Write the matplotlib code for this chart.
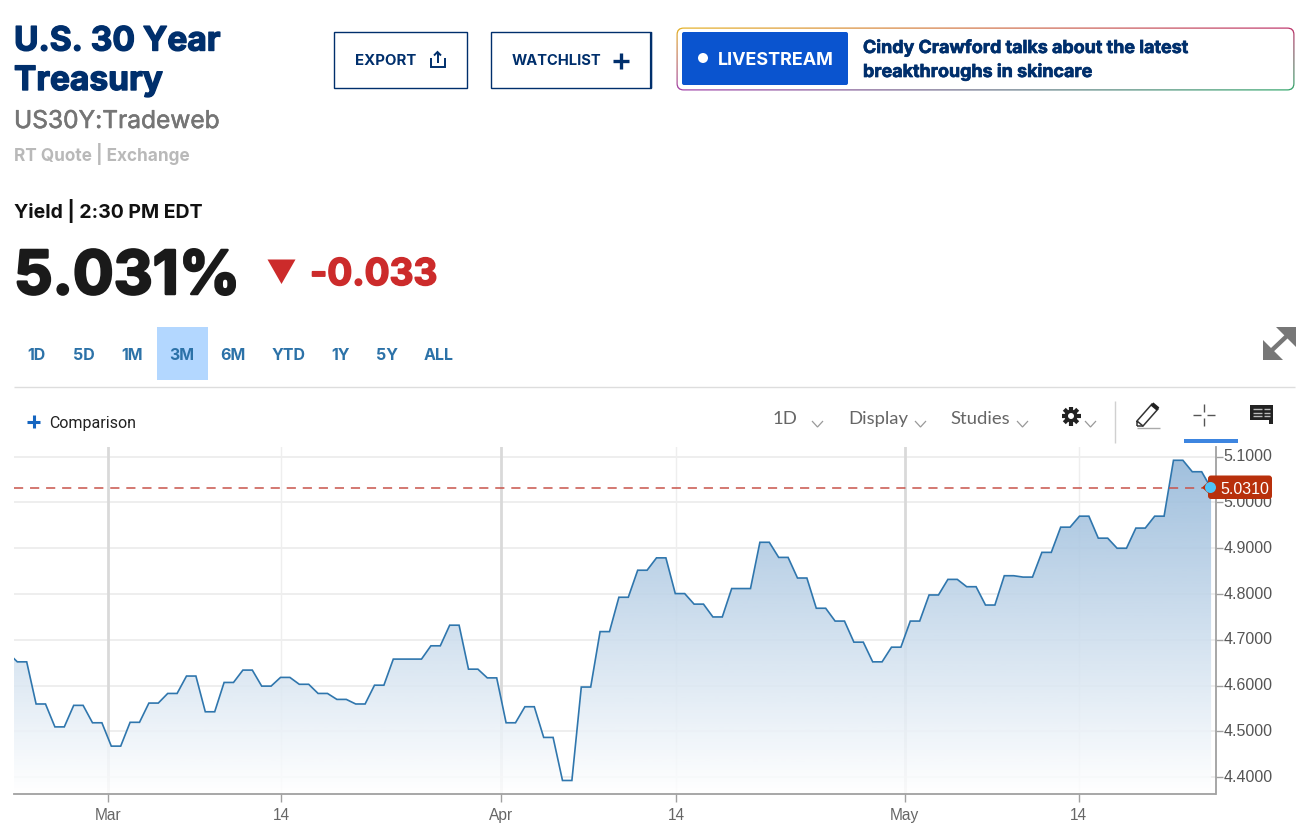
import numpy as np
import matplotlib
matplotlib.use('Agg')
import matplotlib.pyplot as plt
import matplotlib.patheffects as pe
from matplotlib.patches import Rectangle, FancyBboxPatch, Polygon, Circle

# chart data, one value per plotted point (about 9.4 px apart)
yields = [4.672,
    4.652, 4.652, 4.560, 4.560, 4.510, 4.510, 4.557, 4.557, 4.519, 4.519,
    4.468, 4.468, 4.520, 4.520, 4.562, 4.562, 4.583, 4.583, 4.621, 4.621,
    4.543, 4.543, 4.607, 4.607, 4.634, 4.634, 4.599, 4.599, 4.618, 4.618,
    4.603, 4.603, 4.583, 4.583, 4.570, 4.570, 4.560, 4.560, 4.601, 4.601,
    4.658, 4.658, 4.658, 4.658, 4.687, 4.687, 4.732, 4.732, 4.636, 4.636,
    4.617, 4.617, 4.519, 4.519, 4.554, 4.554, 4.487, 4.487, 4.393, 4.393,
    4.597, 4.597, 4.718, 4.718, 4.793, 4.793, 4.852, 4.852, 4.879, 4.879,
    4.801, 4.801, 4.778, 4.778, 4.750, 4.750, 4.812, 4.812, 4.812, 4.913,
    4.913, 4.880, 4.880, 4.835, 4.835, 4.769, 4.769, 4.741, 4.741, 4.695,
    4.695, 4.652, 4.652, 4.684, 4.684, 4.741, 4.741, 4.798, 4.798, 4.832,
    4.832, 4.816, 4.816, 4.776, 4.776, 4.840, 4.840, 4.837, 4.837, 4.891,
    4.891, 4.946, 4.946, 4.970, 4.970, 4.922, 4.922, 4.900, 4.900, 4.944,
    4.944, 4.970, 4.970, 5.092, 5.092, 5.067, 5.067, 5.031]
last_value = 5.031

y_ticks = [4.4, 4.5, 4.6, 4.7, 4.8, 4.9, 5.0, 5.1]
x_tick_pos = [9.65, 28.05, 51.46, 70.07, 94.41, 112.9]
x_tick_labels = ['Mar', '14', 'Apr', '14', 'May', '14']
major_ticks = [9.65, 51.46, 94.41]

ranges = ['1D', '5D', '1M', '3M', '6M', 'YTD', '1Y', '5Y', 'ALL']
range_x = [36, 84, 132.5, 182, 233, 288.5, 341, 387, 439]

NAVY = '#002f6c'
HEAD = 'Inter'
W, H = 1296, 824


def px(s):
    return s * 0.72


fig = plt.figure(figsize=(W / 100, H / 100), dpi=100, facecolor='white')

# ---- chart ----
ax = fig.add_axes([14 / W, 1 - 794 / H, (1215.5 - 14) / W, (794 - 447) / H])
xs = np.arange(len(yields)) - 1
ax.set_xlim(-0.351, 127.47)
ax.set_ylim(4.3635, 5.121)

for v in y_ticks:
    ax.axhline(v, color='#eeeeee', lw=1.4, zorder=1)
for p in x_tick_pos:
    if p in major_ticks:
        ax.axvline(p, color='#d9d9d9', lw=2, zorder=1)
    else:
        ax.axvline(p, color='#eeeeee', lw=1, zorder=1)

# the area mostly hides the grid, then the gradient goes on top
outline = list(zip(xs, yields)) + [(xs[-1], 4.3635), (xs[0], 4.3635)]
ax.add_patch(Polygon(outline, closed=True, facecolor='white', edgecolor='none', alpha=0.85, zorder=1.5))
grad = np.zeros((256, 1, 4))
grad[:, :, 0] = 47 / 255
grad[:, :, 1] = 116 / 255
grad[:, :, 2] = 181 / 255
grad[:, 0, 3] = np.linspace(0.46, 0.0, 256)
im = ax.imshow(grad, extent=[-2, 128, 4.3635, 5.1], aspect='auto', zorder=2, origin='upper')
poly = Polygon(outline, closed=True, transform=ax.transData, facecolor='none', edgecolor='none')
ax.add_patch(poly)
im.set_clip_path(poly)
ax.set_xlim(-0.351, 127.47)
ax.set_ylim(4.3635, 5.121)

ax.plot(xs, yields, color='#2f76ad', lw=1.2, zorder=3, solid_joinstyle='miter')
ax.plot([-0.351, 127], [last_value, last_value], color='#c8534a', lw=1.1, dashes=(6, 4.5), zorder=4)

for s in ['top', 'left']:
    ax.spines[s].set_visible(False)
ax.spines['right'].set_color('#a0a0a0')
ax.spines['bottom'].set_color('#a0a0a0')
ax.spines['right'].set_linewidth(1.3)
ax.spines['bottom'].set_linewidth(1.3)
ax.yaxis.tick_right()
ax.set_yticks(y_ticks)
ax.set_yticklabels(['%.4f' % v for v in y_ticks], fontname='Liberation Sans', fontsize=px(16), color='#555555',
                   va='center')
ax.set_xticks(x_tick_pos)
ax.set_xticklabels(x_tick_labels, fontname='Liberation Sans', fontsize=px(15.5), color='#666666')
ax.tick_params(axis='y', length=5, width=1, color='#a0a0a0', pad=1)
ax.tick_params(axis='x', length=6, width=1, color='#a0a0a0', pad=4)

# ---- page furniture, drawn in pixel coordinates ----
ui = fig.add_axes([0, 0, 1, 1], facecolor='none')
ui.set_axis_off()


def t(x, y, s, size, color='#111111', weight='normal', family=HEAD, ha='left', heavy=0):
    txt = ui.text(x, y, s, fontsize=px(size), color=color, fontweight=weight, family=family,
                  ha=ha, va='baseline')
    if heavy:
        # Inter bold is lighter than the page's font, thicken it a little
        txt.set_path_effects([pe.withStroke(linewidth=heavy, foreground=color)])


def seg(xx, yy, color, lw, cap='butt'):
    ui.plot(xx, yy, color=color, lw=lw, solid_capstyle=cap, solid_joinstyle='miter')


def chevron(x, y):
    seg([x, x + 5.5, x + 11], [y, y + 6, y], '#9a9a9a', 0.9)


t(14, 50.5, 'U.S. 30 Year', 33.5, NAVY, 'bold', heavy=1.0)
t(14, 90, 'Treasury', 33.5, NAVY, 'bold', heavy=1.0)
t(14, 128, 'US30Y:Tradeweb', 24.5, '#757575', 'normal', heavy=0.4)
t(14, 160.5, 'RT Quote | Exchange', 17.2, '#b9b9b9', 'bold')
t(14, 218, 'Yield | 2:30 PM EDT', 19.5, '#111111', 'bold')
t(14, 294, '5.031%', 60.5, '#1a1a1a', 'bold', heavy=1.8)
ui.add_patch(Polygon([(267.5, 259.5), (295.5, 259.5), (281.5, 284)], closed=True, facecolor='#cc2b2b', edgecolor='none'))
t(310, 285, '-0.033', 37, '#cc2b2b', 'bold', heavy=1.2)

# buttons
ui.add_patch(Rectangle((334, 32), 133, 55.5, facecolor='white', edgecolor=NAVY, lw=1.0))
t(355, 65, 'EXPORT', 15, NAVY, 'bold')
seg([430.5, 430.5, 444.5, 444.5], [58, 67, 67, 58], NAVY, 1.4)
seg([437.5, 437.5], [63, 52], NAVY, 1.4)
seg([434, 437.5, 441], [55.5, 52, 55.5], NAVY, 1.4)
ui.add_patch(Rectangle((491, 32), 160, 55.5, facecolor='white', edgecolor=NAVY, lw=1.0))
seg([651, 651], [32, 88], NAVY, 1.6)
t(512, 65, 'WATCHLIST', 14.7, NAVY, 'bold')
seg([613, 629], [60.5, 60.5], NAVY, 2.4)
seg([621, 621], [52.5, 68.5], NAVY, 2.4)

# livestream banner with the rainbow border
corners = np.array([[[230, 180, 34], [192, 48, 106]], [[160, 60, 168], [47, 168, 106]]]) / 255
u = np.linspace(0, 1, 200)[None, :, None]
v = np.linspace(0, 1, 30)[:, None, None]
rainbow = (1 - v) * ((1 - u) * corners[0, 0] + u * corners[0, 1]) + v * ((1 - u) * corners[1, 0] + u * corners[1, 1])
rim = ui.imshow(rainbow, extent=[675, 1296, 92, 26], aspect='auto', zorder=1)
box = FancyBboxPatch((676.5, 27.5), 618, 63, boxstyle='round,pad=0,rounding_size=7',
                     facecolor='none', edgecolor='none', transform=ui.transData)
ui.add_patch(box)
rim.set_clip_path(box)
ui.add_patch(FancyBboxPatch((677.7, 28.7), 615.6, 60.6, boxstyle='round,pad=0,rounding_size=6',
                            facecolor='white', edgecolor='none', zorder=1.5))
ui.add_patch(FancyBboxPatch((682, 32), 166, 53, boxstyle='round,pad=0,rounding_size=2',
                            facecolor='#0a54cf', edgecolor='none', zorder=1.6))
ui.add_patch(Circle((703, 58), 5, facecolor='white', edgecolor='none', zorder=1.7))
ui.text(718, 64.5, 'LIVESTREAM', fontsize=px(18), color='white', fontweight='bold', family=HEAD, zorder=2)
t(863, 53, 'Cindy Crawford talks about the latest', 17.9, NAVY, 'bold', heavy=0.5)
t(863, 77, 'breakthroughs in skincare', 17.9, NAVY, 'bold', heavy=0.5)

# range selector
ui.add_patch(Rectangle((157, 327), 51, 53, facecolor='#b3d7ff', edgecolor='none'))
for name, x in zip(ranges, range_x):
    t(x, 359.5, name, 16, '#2c72a8', 'bold', ha='center')
seg([14, 1295], [386.5, 386.5], '#dddddd', 1)

# expand arrows
seg([1270, 1289], [352, 334], '#777777', 3.2)
ui.add_patch(Polygon([(1263, 340), (1263, 360), (1283, 360)], closed=True, facecolor='#777777', edgecolor='none'))
ui.add_patch(Polygon([(1276, 327), (1296, 327), (1296, 347)], closed=True, facecolor='#777777', edgecolor='none'))

# chart toolbar
seg([27, 40], [421.5, 421.5], '#1565c0', 2.2)
seg([33.5, 33.5], [415, 428], '#1565c0', 2.2)
t(49, 427.5, 'Comparison', 16, '#222222', 'normal', 'Roboto')
t(773, 424, '1D', 18.5, '#666666', 'normal', 'Lato')
chevron(812, 421)
t(848, 424, 'Display', 18.5, '#666666', 'normal', 'Lato')
chevron(915, 421)
t(950, 424, 'Studies', 18.5, '#666666', 'normal', 'Lato')
chevron(1017, 421)
for a in np.arange(0, 180, 45):
    dx, dy = 9.5 * np.cos(np.radians(a)), 9.5 * np.sin(np.radians(a))
    seg([1071 - dx, 1071 + dx], [416 - dy, 416 + dy], '#222222', 3)
ui.add_patch(Circle((1071, 416), 6.5, facecolor='#222222', edgecolor='none', zorder=3))
ui.add_patch(Circle((1071, 416), 3, facecolor='white', edgecolor='none', zorder=4))
chevron(1085, 421)
seg([1114.5, 1114.5], [401, 443], '#d0d0d0', 1)
# pencil
seg([1137, 1143, 1158, 1152, 1137, 1137], [421, 426, 409, 404, 421, 426], '#333333', 1.1)
seg([1137, 1143], [426, 426], '#333333', 1.1)
seg([1152, 1158], [404, 409], '#222222', 3)
seg([1137, 1160], [427.5, 427.5], '#aaaaaa', 1)
# crosshair
seg([1193, 1201], [415, 415], '#555555', 1)
seg([1207, 1215], [415, 415], '#555555', 1)
seg([1204, 1204], [404, 412], '#555555', 1)
seg([1204, 1204], [418, 426], '#555555', 1)
ui.add_patch(Rectangle((1184, 439), 54, 3.5, facecolor='#3d85e0', edgecolor='none'))
# comment icon
ui.add_patch(Polygon([(1250, 405), (1273, 405), (1273, 424), (1269, 424), (1269, 420), (1250, 420)], closed=True,
                     facecolor='#222222', edgecolor='none'))
for yy in [409, 412.5, 416]:
    seg([1253, 1262], [yy, yy], '#bbbbbb', 1)
    seg([1264, 1270], [yy, yy], '#bbbbbb', 1)

# last price tag and dot
tag = FancyBboxPatch((1208, 475.5), 64, 23.5, boxstyle='round,pad=0,rounding_size=3', facecolor='#b8300c', edgecolor='none', zorder=5)
ui.add_patch(tag)
ui.add_patch(Polygon([(1202, 487.5), (1210, 480), (1210, 495)], closed=True, facecolor='#b8300c', edgecolor='none', zorder=5))
ui.add_patch(Circle((1210.5, 487.5), 5.5, facecolor='#4fc3f7', edgecolor='none', zorder=6))
ui.text(1220, 493.5, '5.0310', fontsize=px(16), color='white', family='Liberation Sans', zorder=6)

ui.set_xlim(0, W)
ui.set_ylim(H, 0)

fig.savefig('out.png', dpi=100)
